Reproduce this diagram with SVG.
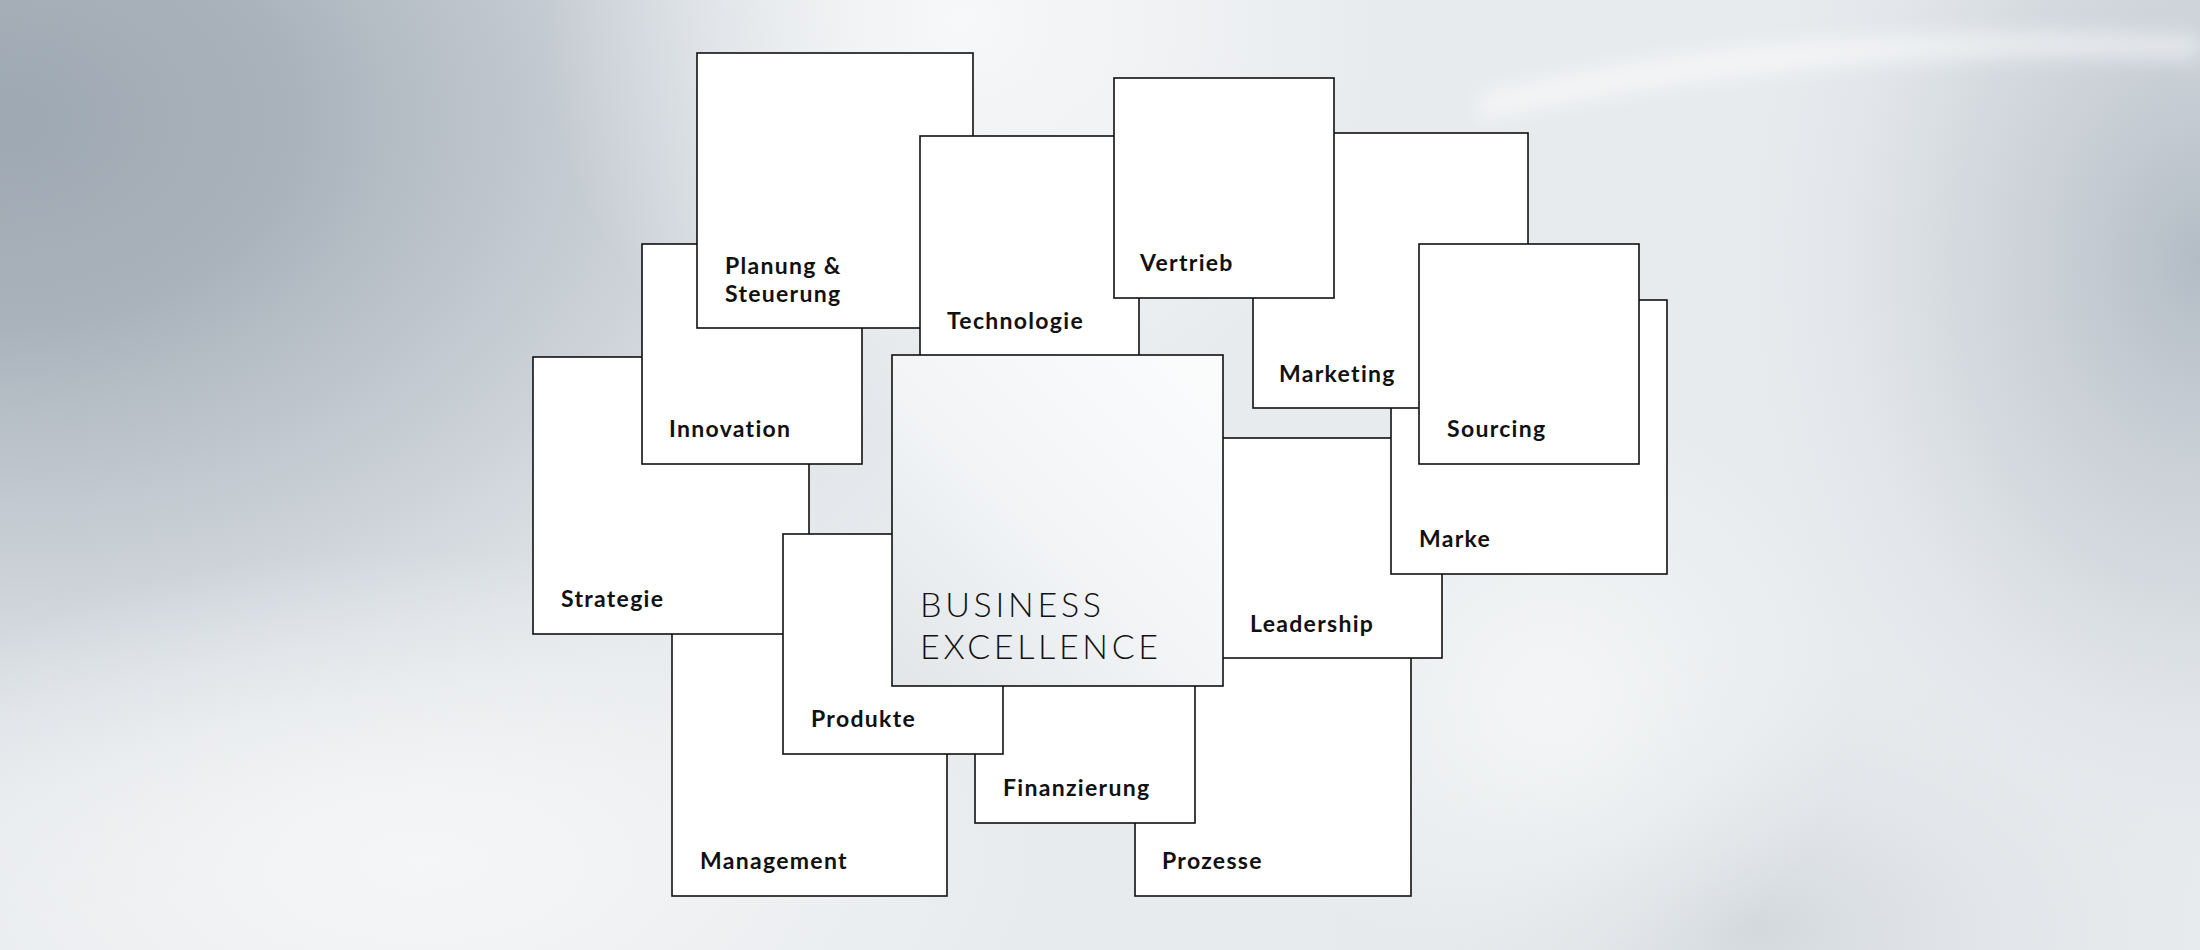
<svg xmlns="http://www.w3.org/2000/svg" width="2200" height="950" viewBox="0 0 2200 950">
  <defs>
    <radialGradient id="bgL" cx="0" cy="120" r="1200" gradientUnits="userSpaceOnUse" gradientTransform="translate(0 120) scale(1 0.7) translate(0 -120)">
      <stop offset="0" stop-color="#9ea8b2"/>
      <stop offset="0.25" stop-color="#aab3bc"/>
      <stop offset="0.55" stop-color="#c4cbd2" stop-opacity="0.8"/>
      <stop offset="0.8" stop-color="#dde1e5" stop-opacity="0.4"/>
      <stop offset="1" stop-color="#e8ebee" stop-opacity="0"/>
    </radialGradient>
    <radialGradient id="bgR" cx="2200" cy="260" r="650" gradientUnits="userSpaceOnUse" gradientTransform="translate(2200 260) scale(0.75 1) translate(-2200 -260)">
      <stop offset="0" stop-color="#b3bcc5"/>
      <stop offset="0.5" stop-color="#ccd2d8" stop-opacity="0.7"/>
      <stop offset="1" stop-color="#e8ebee" stop-opacity="0"/>
    </radialGradient>
    <radialGradient id="bgBR" cx="1760" cy="930" r="520" gradientUnits="userSpaceOnUse" gradientTransform="translate(1760 930) scale(1 0.6) translate(-1760 -930)">
      <stop offset="0" stop-color="#d4d9dd"/>
      <stop offset="1" stop-color="#e8ebee" stop-opacity="0"/>
    </radialGradient>
    <radialGradient id="hiT" cx="960" cy="20" r="420" gradientUnits="userSpaceOnUse">
      <stop offset="0" stop-color="#f7f8f9"/>
      <stop offset="1" stop-color="#f7f8f9" stop-opacity="0"/>
    </radialGradient>
    <radialGradient id="hiB" cx="420" cy="860" r="620" gradientUnits="userSpaceOnUse" gradientTransform="translate(420 860) scale(1 0.5) translate(-420 -860)">
      <stop offset="0" stop-color="#f5f6f7"/>
      <stop offset="1" stop-color="#f5f6f7" stop-opacity="0"/>
    </radialGradient>
    <radialGradient id="hiR" cx="1550" cy="700" r="300" gradientUnits="userSpaceOnUse">
      <stop offset="0" stop-color="#f3f5f6"/>
      <stop offset="1" stop-color="#f3f5f6" stop-opacity="0"/>
    </radialGradient>
    <filter id="blur" x="-20%" y="-200%" width="140%" height="500%">
      <feGaussianBlur stdDeviation="10"/>
    </filter>
    <linearGradient id="beFill" x1="0" y1="1" x2="1" y2="0">
      <stop offset="0" stop-color="#e2e6e9"/>
      <stop offset="0.5" stop-color="#f3f5f7"/>
      <stop offset="1" stop-color="#fbfcfc"/>
    </linearGradient>
    <style>
      .box { fill: #ffffff; stroke: #111111; stroke-width: 1.6; }
      .be { fill: url(#beFill); stroke: #111111; stroke-width: 1.6; }
      .lbl { font-family: Lato, "Liberation Sans", sans-serif; font-weight: 700; font-size: 23px; letter-spacing: 1.3px; fill: #111111; }
      .belbl { font-family: Lato, "Liberation Sans", sans-serif; font-weight: 300; font-size: 34px; fill: #111111; }
    </style>
  </defs>

  <g id="background">
    <rect x="0" y="0" width="2200" height="950" fill="#e8ebee"/>
    <rect x="0" y="0" width="2200" height="950" fill="url(#bgL)"/>
    <rect x="0" y="0" width="2200" height="950" fill="url(#bgR)"/>
    <rect x="0" y="0" width="2200" height="950" fill="url(#bgBR)"/>
    <rect x="0" y="0" width="2200" height="950" fill="url(#hiT)"/>
    <rect x="0" y="0" width="2200" height="950" fill="url(#hiB)"/>
    <rect x="0" y="0" width="2200" height="950" fill="url(#hiR)"/>
    <path d="M1480 95 C1700 40 1950 25 2200 35 L2200 60 C1950 50 1720 65 1480 120 Z" fill="#ffffff" opacity="0.5" filter="url(#blur)"/>
  </g>

  <g id="connectors"></g>

  <g id="management">
    <rect class="box" x="672" y="620" width="275" height="276"/>
    <text class="lbl" x="700" y="869">Management</text>
  </g>
  <g id="prozesse">
    <rect class="box" x="1135" y="620" width="276" height="276"/>
    <text class="lbl" x="1162" y="869">Prozesse</text>
  </g>
  <g id="strategie">
    <rect class="box" x="533" y="357" width="276" height="277"/>
    <text class="lbl" x="561" y="607">Strategie</text>
  </g>
  <g id="innovation">
    <rect class="box" x="642" y="244" width="220" height="220"/>
    <text class="lbl" x="669" y="437">Innovation</text>
  </g>
  <g id="planung">
    <rect class="box" x="697" y="53" width="276" height="275"/>
    <text class="lbl" x="725" y="274">Planung &amp;</text>
    <text class="lbl" x="725" y="302">Steuerung</text>
  </g>
  <g id="technologie">
    <rect class="box" x="920" y="136" width="219" height="220"/>
    <text class="lbl" x="947" y="329">Technologie</text>
  </g>
  <g id="finanzierung">
    <rect class="box" x="975" y="603" width="220" height="220"/>
    <text class="lbl" x="1003" y="796">Finanzierung</text>
  </g>
  <g id="produkte">
    <rect class="box" x="783" y="534" width="220" height="220"/>
    <text class="lbl" x="811" y="727">Produkte</text>
  </g>
  <g id="leadership">
    <rect class="box" x="1222" y="438" width="220" height="220"/>
    <text class="lbl" x="1250" y="632">Leadership</text>
  </g>
  <g id="marke">
    <rect class="box" x="1391" y="300" width="276" height="274"/>
    <text class="lbl" x="1419" y="547">Marke</text>
  </g>
  <g id="marketing">
    <rect class="box" x="1253" y="133" width="275" height="275"/>
    <text class="lbl" x="1279" y="382">Marketing</text>
  </g>
  <g id="sourcing">
    <rect class="box" x="1419" y="244" width="220" height="220"/>
    <text class="lbl" x="1447" y="437">Sourcing</text>
  </g>
  <g id="vertrieb">
    <rect class="box" x="1114" y="78" width="220" height="220"/>
    <text class="lbl" x="1140" y="271">Vertrieb</text>
  </g>
  <g id="business-excellence">
    <rect class="be" x="892" y="355" width="331" height="331"/>
    <text class="belbl" x="920" y="617" textLength="181" lengthAdjust="spacing">BUSINESS</text>
    <text class="belbl" x="920" y="659" textLength="238" lengthAdjust="spacing">EXCELLENCE</text>
  </g>
</svg>
